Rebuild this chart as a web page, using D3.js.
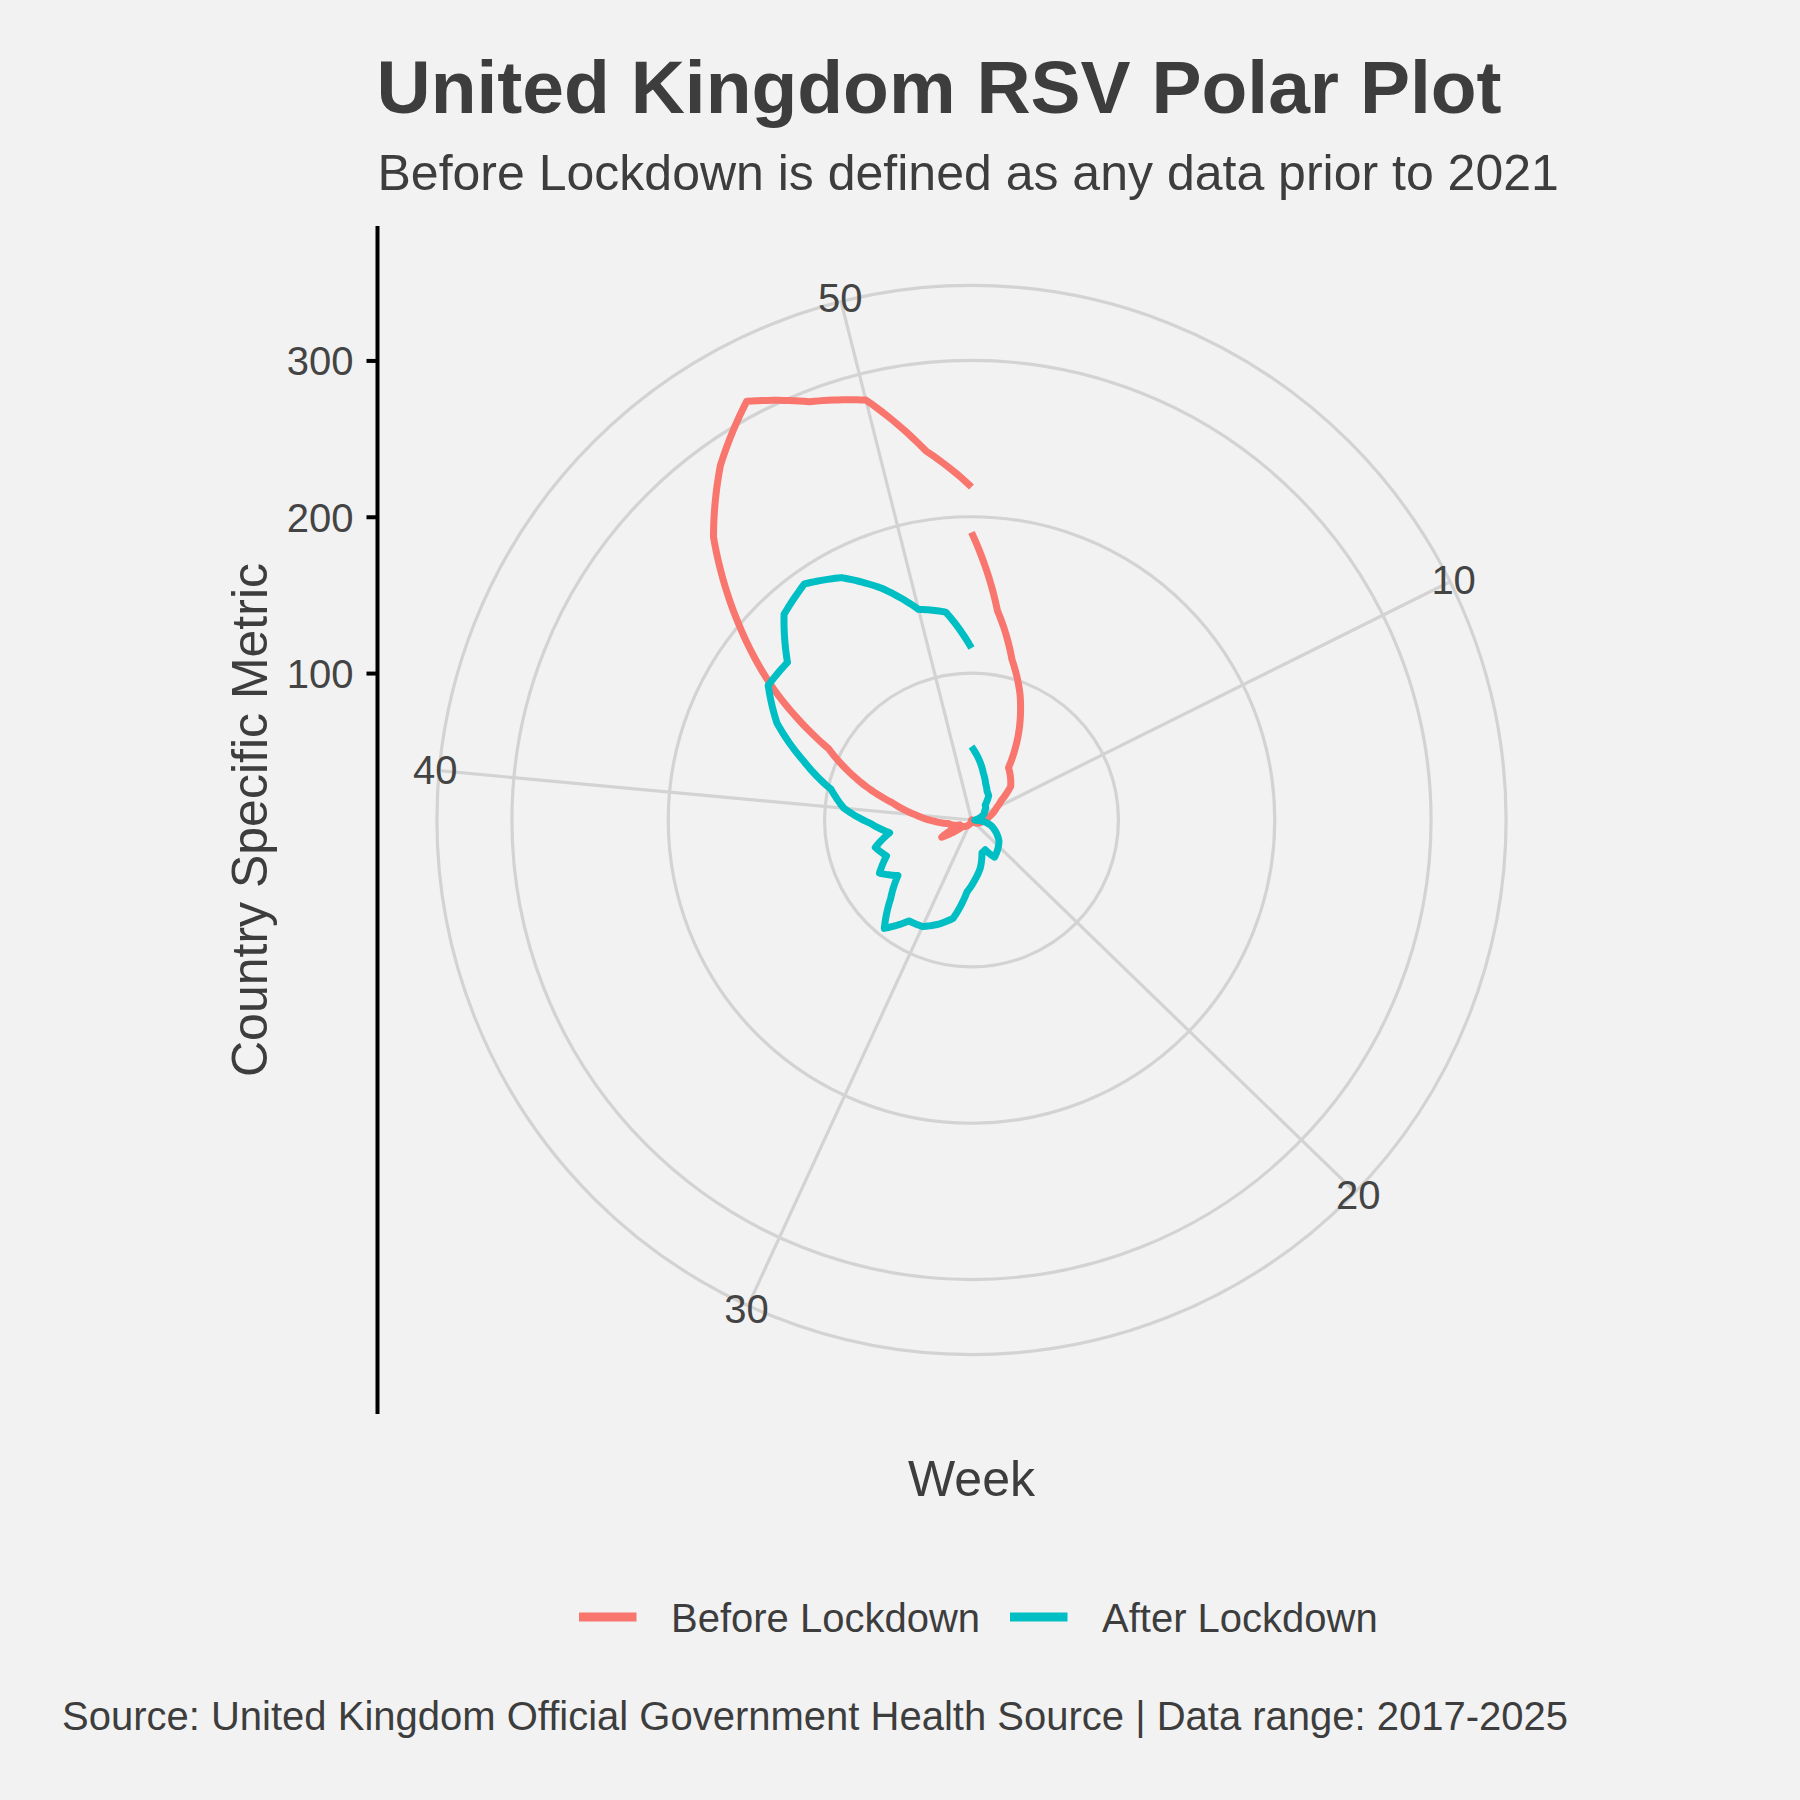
<!DOCTYPE html>
<html>
<head>
<meta charset="utf-8">
<script src="https://cdn.jsdelivr.net/npm/d3@7"></script>
<style>
  html, body { margin: 0; padding: 0; background: #F2F2F2; }
  svg { display: block; }
  text { font-family: "Liberation Sans", Arial, Helvetica, sans-serif; }
</style>
</head>
<body>
<svg id="chart" width="1800" height="1800"></svg>
<script>
// ---------------- data ----------------
const weeks = [1,2,3,4,5,6,7,8,9,10,11,12,13,14,15,16,17,18,19,20,21,22,23,24,25,26,
               27,28,29,30,31,32,33,34,35,36,37,38,39,40,41,42,43,44,45,46,47,48,49,50,51,52];
const beforeLockdown = [190,141,112,92,70,47,43,39,29,24,21,18,16,14,13,12,11,10,9,8,7,7,6,6,6,6,
                        7,7,8,9,10,11,12,13,28,14,18,21,30,42,58,83,108,158,204,251,284,310,293,283,244,219];
const afterLockdown = [53,45,37,31,27,25,19,18,16,15,13,11,9,8,15,19,22,25,28,30,32,34,27,28,37,44,
                       52,70,76,81,82,95,78,65,74,65,70,59,71,88,98,120,145,162,161,184,191,182,165,145,140,116];
const seriesNames = ["Before Lockdown", "After Lockdown"];
const seriesColors = ["#F8766D", "#00BFC4"];
const thetaTicks = [10, 20, 30, 40, 50];
const rTicks = [100, 200, 300];

// ---------------- layout ----------------
const svg = d3.select("#chart");
const panel = { left: 377.5, top: 226, size: 1188 };
const cx = panel.left + panel.size / 2;
const cy = panel.top + panel.size / 2;
const rOuter = 0.45 * panel.size;
const rData = 0.4 * panel.size;
const textCol = "#3d3d3d";
const font = '"Liberation Sans", Arial, Helvetica, sans-serif';

svg.append("rect").attr("width", 1800).attr("height", 1800).attr("fill", "#F2F2F2");

const series = [
  { name: seriesNames[0], color: seriesColors[0], values: beforeLockdown },
  { name: seriesNames[1], color: seriesColors[1], values: afterLockdown }
];

const allValues = beforeLockdown.concat(afterLockdown);
const theta = d3.scaleLinear().domain(d3.extent(weeks)).range([0, 2 * Math.PI]);
const r = d3.scaleLinear().domain(d3.extent(allValues)).range([0, rData]);

const g = svg.append("g").attr("transform", `translate(${cx},${cy})`);

// grid circles
const gridCol = "#D3D3D3";
const gridW = 3.2;
g.selectAll("circle.grid")
  .data(rTicks.map(v => r(v)).concat([rOuter]))
  .join("circle")
  .attr("class", "grid")
  .attr("r", d => d)
  .attr("fill", "none")
  .attr("stroke", gridCol)
  .attr("stroke-width", gridW);

// spokes
g.selectAll("line.spoke")
  .data(thetaTicks)
  .join("line")
  .attr("class", "spoke")
  .attr("x1", 0).attr("y1", 0)
  .attr("x2", d => rOuter * Math.sin(theta(d)))
  .attr("y2", d => -rOuter * Math.cos(theta(d)))
  .attr("stroke", gridCol)
  .attr("stroke-width", gridW);

// theta labels
const labR = rOuter + 4;
g.selectAll("text.theta")
  .data(thetaTicks)
  .join("text")
  .attr("class", "theta")
  .attr("x", d => labR * Math.sin(theta(d)))
  .attr("y", d => -labR * Math.cos(theta(d)) + 14)
  .attr("text-anchor", "middle")
  .attr("font-size", 40)
  .attr("fill", "#444")
  .text(d => d);

// lines: segments drawn in polar data space (like coord_polar munching)
const steps = 12;
function polarPath(values) {
  const pts = [];
  values.forEach((v, i) => {
    if (i === 0) { pts.push([theta(weeks[0]), r(v)]); return; }
    const wI = d3.interpolateNumber(weeks[i - 1], weeks[i]);
    const vI = d3.interpolateNumber(values[i - 1], v);
    for (let s = 1; s <= steps; s++) {
      const t = s / steps;
      pts.push([theta(wI(t)), r(vI(t))]);
    }
  });
  return d3.lineRadial().angle(d => d[0]).radius(d => d[1])(pts);
}

g.selectAll("path.series")
  .data(series)
  .join("path")
  .attr("class", "series")
  .attr("d", d => polarPath(d.values))
  .attr("fill", "none")
  .attr("stroke", d => d.color)
  .attr("stroke-width", 7)
  .attr("stroke-linejoin", "round")
  .attr("stroke-linecap", "butt");

// radial axis on the left
const yAxisScale = d3.scaleLinear().domain(r.domain()).range([cy, cy - rData]);
svg.append("line")
  .attr("x1", panel.left).attr("x2", panel.left)
  .attr("y1", panel.top).attr("y2", panel.top + panel.size)
  .attr("stroke", "#000").attr("stroke-width", 4);

const yAxis = d3.axisLeft(yAxisScale).tickValues(rTicks).tickSize(11).tickPadding(13);
const ya = svg.append("g").attr("transform", `translate(${panel.left},0)`).call(yAxis);
ya.select(".domain").remove();
ya.selectAll(".tick line").attr("stroke", "#000").attr("stroke-width", 4);
ya.selectAll(".tick text")
  .attr("font-size", 40).attr("font-family", font).attr("fill", "#444")
  .attr("dy", "0.36em");

// titles
svg.append("text")
  .attr("x", panel.left - 1).attr("y", 113)
  .attr("font-size", 75).attr("font-weight", "bold").attr("fill", textCol)
  .text("United Kingdom RSV Polar Plot");
svg.append("text")
  .attr("x", panel.left).attr("y", 190)
  .attr("font-size", 50).attr("fill", textCol)
  .text("Before Lockdown is defined as any data prior to 2021");

svg.append("text")
  .attr("x", cx).attr("y", 1496)
  .attr("text-anchor", "middle")
  .attr("font-size", 50).attr("fill", textCol)
  .text("Week");
svg.append("text")
  .attr("transform", `translate(267,${cy}) rotate(-90)`)
  .attr("text-anchor", "middle")
  .attr("font-size", 50).attr("fill", textCol)
  .text("Country Specific Metric");

// legend
const legendX = [579, 1010];
const lg = svg.append("g");
const items = lg.selectAll("g.item").data(series).join("g")
  .attr("class", "item")
  .attr("transform", (d, i) => `translate(${legendX[i]},1617)`);
items.append("line")
  .attr("x1", 0).attr("x2", 57.5).attr("y1", 0).attr("y2", 0)
  .attr("stroke", d => d.color).attr("stroke-width", 9);
items.append("text")
  .attr("x", 92).attr("y", 15)
  .attr("font-size", 40).attr("fill", textCol)
  .text(d => d.name);

// caption
svg.append("text")
  .attr("x", 62).attr("y", 1730)
  .attr("font-size", 40).attr("fill", textCol)
  .text("Source: United Kingdom Official Government Health Source | Data range: 2017-2025");
</script>
</body>
</html>
